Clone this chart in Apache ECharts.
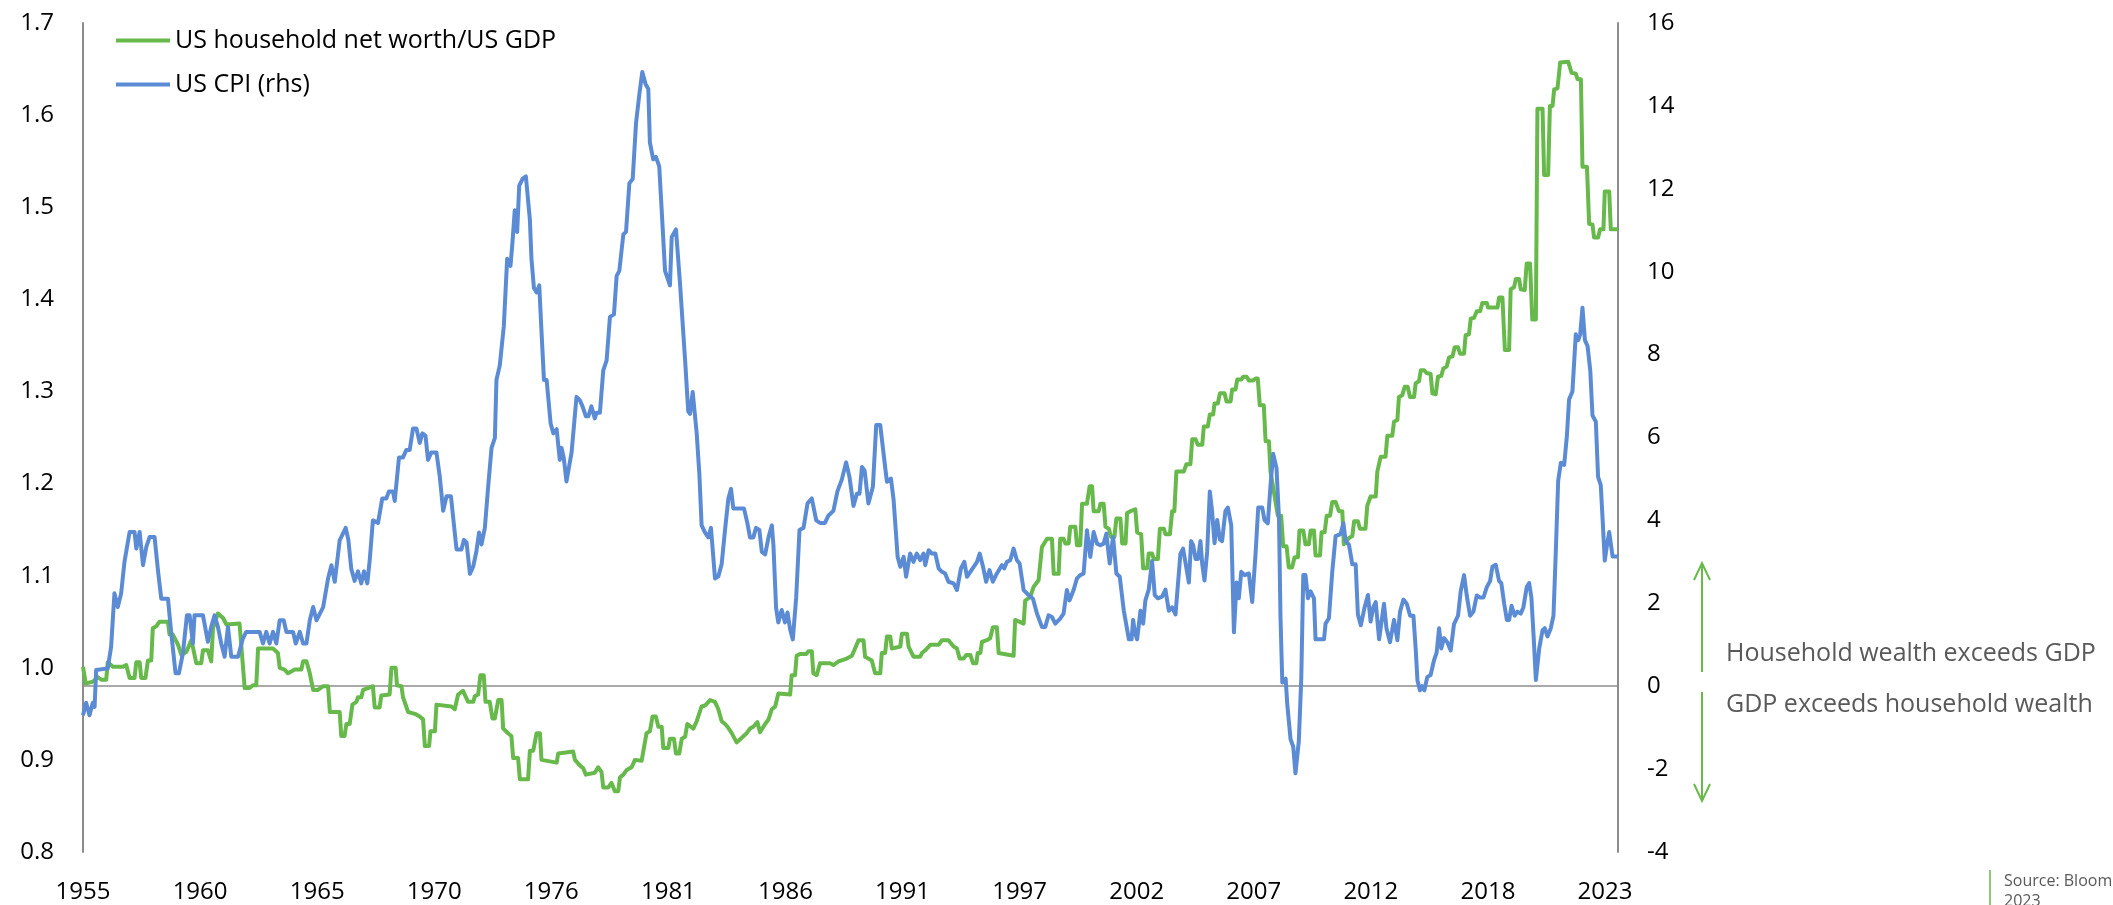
<!DOCTYPE html>
<html>
<head>
<meta charset="utf-8">
<script src="https://cdn.jsdelivr.net/npm/echarts@6/dist/echarts.min.js"></script>
<style>
html,body{margin:0;padding:0;background:#fff;}
#chart{width:2113px;height:905px;}
</style>
</head>
<body>
<div id="chart"></div>
<script>
// ---- Data (x = decimal year) ----
const xLabelStartYear = 1955;
const xLabelEveryMonths = 63;
const lastMonthIndex = 826; // Nov 2023

const netWorthToGdp = [
[1955.00,1.001],[1955.08,1.001],[1955.12,0.983],[1955.45,0.985],[1955.66,0.990],[1955.82,0.987],[1956.04,0.987],[1956.11,1.006],[1956.34,1.001],[1956.79,1.001],[1956.94,1.003],[1957.09,0.989],[1957.31,0.989],[1957.39,1.006],[1957.54,1.006],[1957.61,0.989],[1957.80,0.989],[1957.91,1.008],[1958.06,1.008],[1958.13,1.043],[1958.28,1.045],[1958.43,1.050],[1958.81,1.050],[1958.88,1.036],[1959.03,1.036],[1959.26,1.025],[1959.41,1.014],[1959.63,1.017],[1959.86,1.030],[1960.08,1.005],[1960.30,1.005],[1960.38,1.019],[1960.60,1.019],[1960.75,1.007],[1960.83,1.043],[1961.05,1.059],[1961.28,1.054],[1961.43,1.047],[1962.02,1.048],[1962.25,0.978],[1962.47,0.978],[1962.62,0.981],[1962.77,0.981],[1962.85,1.021],[1963.52,1.021],[1963.74,1.016],[1963.82,1.000],[1964.04,0.998],[1964.19,0.994],[1964.34,0.996],[1964.49,0.998],[1964.79,0.998],[1964.87,1.007],[1965.02,1.007],[1965.17,0.994],[1965.24,0.994],[1965.32,0.976],[1965.54,0.976],[1965.77,0.980],[1965.99,0.980],[1966.07,0.952],[1966.51,0.952],
[1966.58,0.926],[1966.73,0.926],[1966.81,0.939],[1966.96,0.939],[1967.08,0.960],[1967.26,0.963],[1967.33,0.968],[1967.48,0.968],[1967.56,0.976],[1967.78,0.978],[1968.00,0.980],[1968.08,0.957],[1968.30,0.957],[1968.38,0.970],[1968.75,0.971],[1968.83,1.000],[1969.02,1.000],[1969.08,0.981],[1969.28,0.980],[1969.35,0.968],[1969.58,0.952],[1969.88,0.950],[1970.10,0.947],[1970.25,0.944],[1970.33,0.915],[1970.52,0.915],[1970.58,0.931],[1970.78,0.931],[1970.85,0.960],[1971.52,0.958],[1971.67,0.955],[1971.82,0.971],[1972.04,0.975],[1972.27,0.963],[1972.50,0.963],[1972.57,0.969],[1972.72,0.971],[1972.82,0.992],[1972.97,0.992],[1973.05,0.963],[1973.24,0.963],[1973.36,0.945],[1973.47,0.945],[1973.62,0.965],[1973.77,0.965],[1973.84,0.934],[1974.06,0.929],[1974.21,0.926],[1974.29,0.902],[1974.51,0.902],[1974.59,0.879],[1974.96,0.879],[1975.04,0.910],[1975.19,0.910],[1975.34,0.929],[1975.49,0.929],[1975.56,0.900],[1976.24,0.897],[1976.31,0.907],[1976.98,0.909],[1977.06,0.900],[1977.28,0.894],[1977.43,0.891],[1977.55,0.884],[1977.95,0.886],[1978.10,0.892],[1978.25,0.887],[1978.33,0.870],
[1978.55,0.870],[1978.70,0.875],[1978.85,0.866],[1979.00,0.866],[1979.08,0.881],[1979.23,0.884],[1979.38,0.889],[1979.60,0.892],[1979.75,0.900],[1980.05,0.899],[1980.27,0.929],[1980.42,0.931],[1980.54,0.947],[1980.69,0.947],[1980.80,0.936],[1980.95,0.936],[1981.02,0.913],[1981.25,0.913],[1981.32,0.923],[1981.50,0.923],[1981.59,0.907],[1981.74,0.907],[1981.85,0.923],[1982.00,0.925],[1982.10,0.939],[1982.37,0.934],[1982.52,0.942],[1982.74,0.958],[1982.89,0.959],[1983.12,0.965],[1983.34,0.963],[1983.49,0.955],[1983.64,0.942],[1983.79,0.939],[1983.90,0.936],[1984.09,0.929],[1984.31,0.919],[1984.54,0.924],[1984.76,0.929],[1984.91,0.934],[1985.06,0.936],[1985.24,0.941],[1985.36,0.930],[1985.59,0.939],[1985.74,0.944],[1985.89,0.955],[1986.04,0.958],[1986.18,0.972],[1986.71,0.971],[1986.78,0.992],[1986.93,0.992],[1987.00,1.013],[1987.15,1.015],[1987.43,1.015],[1987.53,1.018],[1987.68,1.018],[1987.75,0.994],[1987.90,0.992],[1988.05,1.005],[1988.50,1.005],[1988.65,1.003],[1988.88,1.007],[1989.25,1.010],[1989.48,1.013],[1989.62,1.021],[1989.78,1.030],
[1990.00,1.030],[1990.07,1.012],[1990.37,1.008],[1990.52,0.994],[1990.75,0.994],[1990.82,1.016],[1990.97,1.016],[1991.05,1.034],[1991.20,1.034],[1991.27,1.021],[1991.65,1.023],[1991.72,1.037],[1991.95,1.037],[1992.02,1.023],[1992.24,1.012],[1992.54,1.012],[1992.62,1.016],[1992.77,1.019],[1993.00,1.025],[1993.37,1.025],[1993.52,1.030],[1993.81,1.030],[1994.04,1.023],[1994.19,1.021],[1994.31,1.010],[1994.49,1.010],[1994.61,1.014],[1994.79,1.014],[1994.91,1.005],[1995.06,1.005],[1995.12,1.016],[1995.24,1.016],[1995.31,1.028],[1995.53,1.030],[1995.68,1.032],[1995.80,1.044],[1995.98,1.044],[1996.06,1.016],[1996.73,1.013],[1996.80,1.052],[1997.18,1.048],[1997.25,1.073],[1997.48,1.077],[1997.63,1.088],[1997.85,1.095],[1998.00,1.131],[1998.23,1.140],[1998.45,1.140],[1998.53,1.102],[1998.75,1.102],[1998.82,1.140],[1998.97,1.140],[1999.05,1.135],[1999.20,1.135],[1999.27,1.153],[1999.50,1.153],[1999.57,1.133],[1999.72,1.133],[1999.80,1.178],[2000.02,1.178],[2000.14,1.197],[2000.25,1.197],[2000.32,1.170],[2000.55,1.170],[2000.62,1.178],[2000.77,1.178],[2000.85,1.153],[2001.00,1.151],[2001.10,1.142],[2001.25,1.142],[2001.34,1.162],[2001.52,1.162],[2001.60,1.135],[2001.75,1.135],[2001.82,1.168],[2001.97,1.170],
[2002.19,1.172],[2002.27,1.147],[2002.45,1.145],[2002.54,1.108],[2002.72,1.108],[2002.79,1.124],[2002.94,1.124],[2003.02,1.118],[2003.20,1.118],[2003.29,1.151],[2003.47,1.151],[2003.54,1.145],[2003.74,1.145],[2003.84,1.170],[2003.94,1.170],[2004.03,1.213],[2004.36,1.213],[2004.48,1.221],[2004.66,1.221],[2004.74,1.248],[2004.89,1.248],[2004.99,1.242],[2005.19,1.242],[2005.26,1.262],[2005.44,1.262],[2005.53,1.275],[2005.68,1.275],[2005.74,1.287],[2005.89,1.287],[2005.98,1.298],[2006.19,1.298],[2006.28,1.289],[2006.46,1.289],[2006.53,1.302],[2006.68,1.302],[2006.76,1.313],[2006.94,1.313],[2007.03,1.316],[2007.18,1.316],[2007.28,1.312],[2007.47,1.312],[2007.58,1.314],[2007.68,1.314],[2007.77,1.285],[2007.95,1.285],[2008.03,1.246],[2008.18,1.246],[2008.25,1.213],[2008.58,1.165],[2008.73,1.165],[2008.82,1.132],[2008.97,1.132],[2009.07,1.109],[2009.22,1.109],[2009.33,1.120],[2009.48,1.120],[2009.55,1.149],[2009.72,1.149],[2009.82,1.134],[2009.97,1.134],[2010.05,1.149],[2010.20,1.149],[2010.27,1.122],[2010.47,1.122],[2010.54,1.147],[2010.68,1.147],[2010.77,1.165],[2010.92,1.165],[2011.02,1.180],[2011.17,1.180],[2011.32,1.170],[2011.47,1.170],[2011.54,1.134],[2011.77,1.141],[2011.92,1.143],[2012.00,1.159],[2012.17,1.159],[2012.26,1.151],[2012.51,1.151],[2012.59,1.176],[2012.74,1.186],[2012.97,1.186],[2013.04,1.213],[2013.19,1.229],[2013.41,1.229],[2013.49,1.252],[2013.71,1.252],
[2013.79,1.267],[2013.94,1.269],[2014.01,1.294],[2014.16,1.296],[2014.27,1.305],[2014.40,1.305],[2014.51,1.294],[2014.69,1.294],[2014.76,1.309],[2014.91,1.311],[2014.99,1.323],[2015.14,1.323],[2015.25,1.320],[2015.43,1.319],[2015.51,1.298],[2015.66,1.297],[2015.76,1.316],[2015.91,1.317],[2016.00,1.325],[2016.15,1.327],[2016.26,1.337],[2016.41,1.338],[2016.51,1.348],[2016.66,1.348],[2016.75,1.341],[2016.93,1.341],[2017.00,1.361],[2017.15,1.362],[2017.23,1.379],[2017.38,1.380],[2017.50,1.387],[2017.65,1.387],[2017.75,1.396],[2017.95,1.396],[2018.01,1.391],[2018.43,1.391],[2018.50,1.402],[2018.65,1.402],[2018.76,1.345],[2018.95,1.345],[2019.02,1.411],[2019.17,1.413],[2019.25,1.422],[2019.40,1.422],[2019.47,1.411],[2019.65,1.410],[2019.74,1.439],[2019.89,1.439],[2019.99,1.378],[2020.15,1.378],[2020.22,1.607],[2020.45,1.607],[2020.52,1.535],[2020.70,1.535],[2020.78,1.610],[2020.90,1.610],[2020.97,1.628],[2021.12,1.629],[2021.24,1.657],[2021.60,1.658],[2021.75,1.646],[2021.94,1.645],[2022.02,1.639],[2022.17,1.639],[2022.24,1.544],[2022.44,1.544],[2022.54,1.482],[2022.69,1.481],[2022.76,1.467],[2022.94,1.467],[2023.03,1.476],[2023.18,1.476],[2023.24,1.517],[2023.44,1.517],[2023.51,1.476],[2023.833,1.476]
];

const usCpi = [
[1955.00,-0.70],[1955.14,-0.40],[1955.29,-0.70],[1955.44,-0.40],[1955.52,-0.50],[1955.59,0.39],[1956.11,0.43],[1956.26,0.95],[1956.41,2.24],[1956.56,1.91],[1956.71,2.24],[1956.86,3.00],[1957.09,3.72],[1957.31,3.72],[1957.39,3.32],[1957.54,3.72],[1957.69,2.92],[1957.84,3.36],[1957.99,3.60],[1958.21,3.60],[1958.36,2.80],[1958.51,2.11],[1958.81,2.11],[1958.96,1.27],[1959.15,0.31],[1959.30,0.31],[1959.48,0.79],[1959.66,1.71],[1959.78,1.71],[1959.93,1.03],[1960.00,1.71],[1960.38,1.71],[1960.60,1.07],[1960.75,1.43],[1960.90,1.71],[1961.05,1.43],[1961.20,1.03],[1961.35,0.71],[1961.50,1.43],[1961.65,0.71],[1961.95,0.71],[1962.17,1.15],[1962.32,1.31],[1962.92,1.31],[1963.07,1.03],[1963.22,1.31],[1963.37,1.03],[1963.52,1.31],[1963.67,1.03],[1963.82,1.59],[1964.00,1.59],[1964.12,1.31],[1964.42,1.31],[1964.54,1.03],[1964.72,1.31],[1964.87,1.03],[1965.02,1.03],[1965.17,1.59],[1965.32,1.91],[1965.47,1.59],[1965.77,1.91],[1965.99,2.60],[1966.14,2.92],[1966.29,2.52],[1966.51,3.52],
[1966.78,3.82],[1966.90,3.53],[1967.03,2.83],[1967.18,2.54],[1967.33,2.77],[1967.48,2.48],[1967.60,2.77],[1967.75,2.48],[1967.86,3.06],[1968.00,4.00],[1968.23,3.94],[1968.42,4.53],[1968.60,4.53],[1968.72,4.70],[1968.90,4.70],[1968.98,4.47],[1969.17,5.52],[1969.35,5.52],[1969.50,5.70],[1969.65,5.70],[1969.80,6.22],[1969.95,6.22],[1970.10,5.87],[1970.22,6.10],[1970.36,6.04],[1970.47,5.46],[1970.62,5.64],[1970.85,5.64],[1971.00,5.05],[1971.15,4.23],[1971.30,4.58],[1971.50,4.58],[1971.75,3.30],[1971.97,3.30],[1972.08,3.53],[1972.20,3.47],[1972.35,2.71],[1972.50,2.89],[1972.64,3.25],[1972.76,3.71],[1972.87,3.42],[1973.02,3.82],[1973.17,4.82],[1973.32,5.75],[1973.47,5.99],[1973.54,7.39],[1973.69,7.74],[1973.87,8.68],[1974.02,10.31],[1974.17,10.14],[1974.26,10.72],[1974.36,11.48],[1974.47,10.96],[1974.56,12.07],[1974.71,12.24],[1974.86,12.30],[1975.04,11.25],[1975.11,10.31],[1975.22,9.61],[1975.34,9.50],[1975.46,9.67],[1975.56,8.56],[1975.67,7.39],[1975.79,7.39],[1975.97,6.34],[1976.09,6.10],[1976.24,6.20],[1976.38,5.46],[1976.46,5.75],[1976.56,5.50],[1976.68,4.94],[1976.76,4.94],[1976.91,5.64],[1977.13,6.98],[1977.28,6.90],[1977.40,6.75],[1977.55,6.51],[1977.66,6.51],[1977.80,6.75],[1977.95,6.46],[1978.03,6.60],[1978.18,6.60],[1978.33,7.62],[1978.48,7.86],[1978.63,8.91],
[1978.81,8.97],[1978.93,9.90],[1979.05,10.02],[1979.23,10.90],[1979.35,10.96],[1979.50,12.13],[1979.65,12.24],[1979.80,13.59],[1979.95,14.29],[1980.08,14.82],[1980.23,14.52],[1980.35,14.41],[1980.42,13.12],[1980.57,12.71],[1980.69,12.77],[1980.84,12.54],[1980.95,11.48],[1981.10,10.02],[1981.32,9.67],[1981.40,10.84],[1981.59,11.02],[1981.77,9.73],[1982.00,7.86],[1982.14,6.63],[1982.22,6.57],[1982.34,7.10],[1982.52,6.10],[1982.64,5.11],[1982.74,3.88],[1982.89,3.71],[1983.04,3.59],[1983.16,3.82],[1983.34,2.60],[1983.49,2.65],[1983.64,2.95],[1983.79,3.77],[1983.94,4.53],[1984.06,4.76],[1984.16,4.29],[1984.64,4.29],[1984.79,3.94],[1984.91,3.59],[1985.06,3.59],[1985.18,3.82],[1985.33,3.77],[1985.44,3.24],[1985.59,3.18],[1985.74,3.59],[1985.89,3.88],[1985.96,3.41],[1986.08,1.89],[1986.18,1.54],[1986.33,1.84],[1986.48,1.54],[1986.59,1.78],[1986.71,1.37],[1986.83,1.13],[1986.98,2.13],[1987.13,3.77],[1987.31,3.82],[1987.49,4.41],[1987.68,4.53],[1987.88,4.00],[1988.05,3.94],[1988.27,3.94],[1988.43,4.12],[1988.65,4.23],[1988.83,4.70],[1989.03,4.99],[1989.22,5.40],[1989.37,5.05],[1989.55,4.35],[1989.70,4.64],[1989.82,4.64],[1989.93,5.29],
[1990.05,5.20],[1990.22,4.41],[1990.42,4.81],[1990.57,6.30],[1990.75,6.30],[1990.97,5.29],[1991.05,4.93],[1991.23,5.01],[1991.35,4.49],[1991.53,3.12],[1991.65,2.88],[1991.80,3.12],[1991.91,2.64],[1992.09,3.20],[1992.24,3.00],[1992.39,3.20],[1992.54,3.04],[1992.69,3.20],[1992.77,2.92],[1992.92,3.28],[1993.07,3.20],[1993.22,3.20],[1993.37,2.84],[1993.52,2.76],[1993.66,2.72],[1993.81,2.52],[1994.04,2.48],[1994.19,2.32],[1994.37,2.84],[1994.52,3.00],[1994.64,2.64],[1994.79,2.76],[1994.94,2.88],[1995.09,3.00],[1995.21,3.20],[1995.36,2.88],[1995.50,2.52],[1995.65,2.80],[1995.80,2.52],[1995.98,2.72],[1996.21,2.92],[1996.31,2.84],[1996.43,3.00],[1996.58,3.04],[1996.73,3.32],[1996.88,3.04],[1997.00,2.96],[1997.18,2.32],[1997.40,2.20],[1997.60,2.11],[1997.78,1.75],[1998.00,1.43],[1998.15,1.43],[1998.30,1.71],[1998.45,1.67],[1998.60,1.51],[1998.82,1.63],[1998.97,1.75],[1999.12,2.32],[1999.24,2.07],[1999.42,2.32],[1999.57,2.60],[1999.72,2.68],[1999.87,2.72],[2000.02,3.76],[2000.17,3.12],[2000.32,3.72],[2000.47,3.44],[2000.62,3.40],[2000.77,3.44],[2000.89,3.68],[2001.04,2.96],[2001.19,3.60],[2001.34,2.72],[2001.49,2.64],[2001.67,1.83],[2001.90,1.13],
[2002.02,1.13],[2002.09,1.60],[2002.17,1.30],[2002.27,1.13],[2002.42,1.82],[2002.54,1.51],[2002.64,2.07],[2002.79,2.33],[2002.94,3.02],[2003.06,2.20],[2003.20,2.12],[2003.39,2.16],[2003.54,2.33],[2003.69,1.82],[2003.84,1.90],[2003.99,1.73],[2004.07,1.73],[2004.21,3.19],[2004.33,3.32],[2004.48,2.85],[2004.59,2.50],[2004.69,3.50],[2004.78,3.41],[2004.89,3.07],[2005.00,3.07],[2005.11,3.50],[2005.19,2.94],[2005.29,2.55],[2005.41,3.24],[2005.53,4.70],[2005.63,4.23],[2005.74,3.45],[2005.86,4.01],[2005.98,3.54],[2006.08,3.50],[2006.23,4.23],[2006.34,4.31],[2006.49,3.88],[2006.61,1.30],[2006.73,2.50],[2006.83,2.12],[2006.94,2.76],[2007.09,2.68],[2007.28,2.72],[2007.43,2.03],[2007.58,3.19],[2007.70,4.31],[2007.88,4.31],[2007.98,4.01],[2008.13,3.93],[2008.25,4.83],[2008.37,5.61],[2008.52,5.26],[2008.63,4.06],[2008.70,1.64],[2008.78,0.09],[2008.93,0.18],[2009.00,-0.42],[2009.15,-1.28],[2009.27,-1.46],[2009.37,-2.10],[2009.52,-1.33],[2009.63,0.18],[2009.72,2.68],[2009.82,2.68],[2009.93,2.12],[2010.05,2.29],[2010.20,2.12],[2010.27,1.13],[2010.65,1.13],[2010.72,1.51],[2010.87,1.64],[2011.02,2.76],[2011.17,3.62],[2011.39,3.67],[2011.52,3.93],[2011.62,3.50],[2011.77,3.41],[2011.92,2.94],[2012.07,2.94],[2012.17,1.73],[2012.30,1.47],[2012.47,1.90],[2012.62,2.20],[2012.74,1.56],[2012.86,1.90],[2012.97,2.03],[2013.12,1.13],
[2013.34,1.99],[2013.45,1.40],[2013.61,1.06],[2013.79,1.60],[2013.94,1.11],[2014.06,1.80],[2014.21,2.09],[2014.36,1.99],[2014.51,1.70],[2014.66,1.70],[2014.76,0.91],[2014.84,0.14],[2014.95,-0.10],[2015.05,0.00],[2015.15,-0.10],[2015.28,0.22],[2015.43,0.27],[2015.58,0.62],[2015.70,0.81],[2015.81,1.40],[2015.91,0.91],[2016.03,1.16],[2016.18,1.06],[2016.33,0.86],[2016.48,1.50],[2016.66,1.70],[2016.78,2.29],[2016.93,2.68],[2017.05,2.19],[2017.20,1.70],[2017.35,1.80],[2017.50,2.19],[2017.65,2.14],[2017.80,2.14],[2017.95,2.39],[2018.10,2.54],[2018.20,2.88],[2018.35,2.93],[2018.50,2.54],[2018.60,2.49],[2018.73,1.99],[2018.85,1.60],[2018.95,1.60],[2019.06,1.94],[2019.20,1.70],[2019.32,1.80],[2019.47,1.75],[2019.59,1.90],[2019.74,2.39],[2019.85,2.49],[2019.95,2.14],[2020.05,1.20],[2020.15,0.15],[2020.30,0.91],[2020.45,1.35],[2020.55,1.40],[2020.67,1.20],[2020.82,1.40],[2020.94,1.70],[2021.04,3.18],[2021.15,4.95],[2021.27,5.39],[2021.42,5.34],[2021.54,6.03],[2021.64,6.92],[2021.79,7.11],[2021.94,8.49],[2022.05,8.35],[2022.14,8.49],[2022.24,9.13],[2022.35,8.35],[2022.47,8.20],[2022.59,7.61],[2022.69,6.53],[2022.84,6.38],[2022.94,5.05],[2023.06,4.85],[2023.14,4.06],[2023.24,3.03],[2023.33,3.37],[2023.44,3.72],[2023.59,3.13],[2023.833,3.13]
];

const seriesNames = ['US household net worth/US GDP', 'US CPI (rhs)'];
const leftTicks = {min: 0.8, max: 1.7, step: 0.1};
const rightTicks = {min: -4, max: 16, step: 2};
const annotationUp = 'Household wealth exceeds GDP';
const annotationDown = 'GDP exceeds household wealth';
const sourceText = 'Source: Bloomberg, Aviva Investors. Data as of November\n2023';

// ---- Chart ----
const toMonths = pts => pts.map(p => [(p[0] - xLabelStartYear) * 12, p[1]]);
const GREEN = '#66B94A';
const BLUE = '#5B8BD5';
const AXIS = '#8C8C8C';
const FONT = 'Open Sans';

const chart = echarts.init(document.getElementById('chart'), null, {renderer: 'canvas'});
const option = {
  animation: false,
  backgroundColor: '#ffffff',
  textStyle: {fontFamily: FONT},
  grid: {left: 83, right: 495, top: 23, bottom: 53, containLabel: false},
  legend: {
    orient: 'vertical', left: 111, top: 23, itemGap: 19,
    icon: 'rect', itemWidth: 54, itemHeight: 4,
    textStyle: {fontFamily: FONT, fontSize: 25, color: '#000'},
    data: seriesNames
  },
  xAxis: {
    type: 'value', min: 0, max: lastMonthIndex, interval: xLabelEveryMonths,
    axisLine: {show: false}, axisTick: {show: false}, splitLine: {show: false},
    axisLabel: {
      fontFamily: FONT, fontSize: 24, color: '#000', margin: 28,
      formatter: v => (Math.round(v) % xLabelEveryMonths === 0) ? String(xLabelStartYear + Math.floor(v / 12 + 1e-9)) : ''
    }
  },
  yAxis: [
    {
      type: 'value', position: 'left', min: leftTicks.min, max: leftTicks.max, interval: leftTicks.step,
      axisLine: {show: true, lineStyle: {color: AXIS, width: 2}}, axisTick: {show: false}, splitLine: {show: false},
      axisLabel: {fontFamily: FONT, fontSize: 24, color: '#000', margin: 29, formatter: v => v.toFixed(1)}
    },
    {
      type: 'value', position: 'right', min: rightTicks.min, max: rightTicks.max, interval: rightTicks.step,
      axisLine: {show: true, lineStyle: {color: AXIS, width: 2}}, axisTick: {show: false}, splitLine: {show: false},
      axisLabel: {fontFamily: FONT, fontSize: 24, color: '#000', margin: 29}
    }
  ],
  series: [
    {
      name: seriesNames[0], type: 'line', yAxisIndex: 0, data: toMonths(netWorthToGdp),
      showSymbol: false, symbol: 'none', color: GREEN,
      lineStyle: {color: GREEN, width: 4, join: 'round'}, z: 3
    },
    {
      name: seriesNames[1], type: 'line', yAxisIndex: 1, data: toMonths(usCpi),
      showSymbol: false, symbol: 'none', color: BLUE,
      lineStyle: {color: BLUE, width: 4, join: 'round'}, z: 4,
      markLine: {
        silent: true, symbol: ['none', 'none'], label: {show: false},
        lineStyle: {color: '#8C8C8C', width: 1.5, type: 'solid'},
        data: [{yAxis: 0}], z: 2
      }
    }
  ],
  graphic: [
    // up arrow
    {type: 'line', shape: {x1: 1702, y1: 672, x2: 1702, y2: 563}, style: {stroke: GREEN, lineWidth: 2}},
    {type: 'polyline', shape: {points: [[1694, 580], [1702, 563], [1710, 580]]}, style: {stroke: GREEN, lineWidth: 2, fill: null}},
    // down arrow
    {type: 'line', shape: {x1: 1702, y1: 692, x2: 1702, y2: 801}, style: {stroke: GREEN, lineWidth: 2}},
    {type: 'polyline', shape: {points: [[1694, 784], [1702, 801], [1710, 784]]}, style: {stroke: GREEN, lineWidth: 2, fill: null}},
    {type: 'text', left: 1726, top: 641, style: {text: annotationUp, font: '25px "Open Sans"', fill: '#595959'}},
    {type: 'text', left: 1726, top: 692, style: {text: annotationDown, font: '25px "Open Sans"', fill: '#595959'}},
    // source
    {type: 'line', shape: {x1: 1990, y1: 870, x2: 1990, y2: 905}, style: {stroke: GREEN, lineWidth: 1.5}},
    {type: 'text', left: 2004, top: 871, style: {text: sourceText, font: '16px "Open Sans"', fill: '#595959', lineHeight: 20}}
  ]
};
chart.setOption(option);
</script>
</body>
</html>
